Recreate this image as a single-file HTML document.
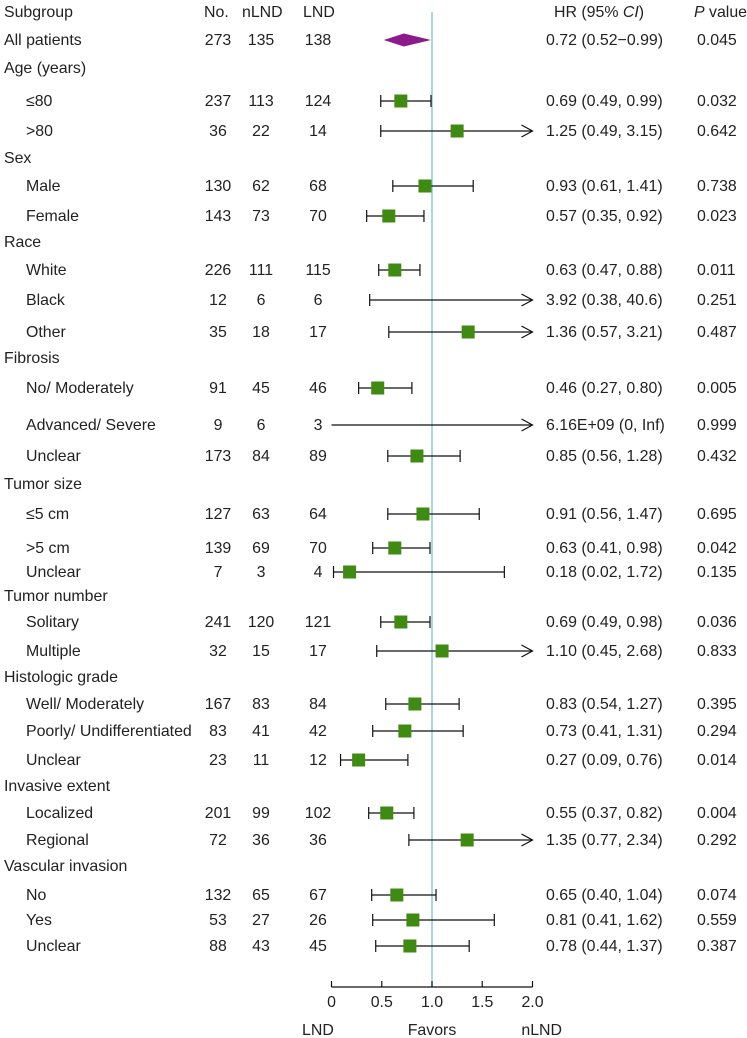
<!DOCTYPE html>
<html><head><meta charset="utf-8"><style>
html,body{margin:0;padding:0;background:#fff;}
svg{display:block;font-family:"Liberation Sans",Arial,sans-serif;font-size:15.9px;fill:#222;}
</style></head><body>
<svg id="chart" width="747" height="1038" viewBox="0 0 747 1038" xmlns="http://www.w3.org/2000/svg">
<g id="hdr">
<text x="4" y="17">Subgroup</text>
<text x="204" y="17">No.</text>
<text x="242" y="17">nLND</text>
<text x="303" y="17">LND</text>
<text x="554" y="17">HR (95% <tspan font-style="italic">CI</tspan>)</text>
<text x="694" y="17"><tspan font-style="italic">P</tspan> value</text>
</g>
<g id="rows"></g>
<g id="axis"></g>
</svg>
<script>
const labels=["All patients","Age (years)","≤80",">80","Sex","Male","Female","Race","White","Black","Other","Fibrosis","No/ Moderately","Advanced/ Severe","Unclear","Tumor size","≤5 cm",">5 cm","Unclear","Tumor number","Solitary","Multiple","Histologic grade","Well/ Moderately","Poorly/ Undifferentiated","Unclear","Invasive extent","Localized","Regional","Vascular invasion","No","Yes","Unclear"];
const rowY=[40,68,101,131,158,186,216,242,270,300,332,358,388,425,456,484,514,548,572,596,622,651,677,704,731,760,786,813,840,866,895,920,946];
const nTotal=[273,null,237,36,null,130,143,null,226,12,35,null,91,9,173,null,127,139,7,null,241,32,null,167,83,23,null,201,72,null,132,53,88];
const nLND=[135,null,113,22,null,62,73,null,111,6,18,null,45,6,84,null,63,69,3,null,120,15,null,83,41,11,null,99,36,null,65,27,43];
const nLND2=[138,null,124,14,null,68,70,null,115,6,17,null,46,3,89,null,64,70,4,null,121,17,null,84,42,12,null,102,36,null,67,26,45];
const hr=[0.72,null,0.69,1.25,null,0.93,0.57,null,0.63,3.92,1.36,null,0.46,6.16e9,0.85,null,0.91,0.63,0.18,null,0.69,1.10,null,0.83,0.73,0.27,null,0.55,1.35,null,0.65,0.81,0.78];
const lo=[0.52,null,0.49,0.49,null,0.61,0.35,null,0.47,0.38,0.57,null,0.27,0,0.56,null,0.56,0.41,0.02,null,0.49,0.45,null,0.54,0.41,0.09,null,0.37,0.77,null,0.40,0.41,0.44];
const hi=[0.99,null,0.99,3.15,null,1.41,0.92,null,0.88,40.6,3.21,null,0.80,Infinity,1.28,null,1.47,0.98,1.72,null,0.98,2.68,null,1.27,1.31,0.76,null,0.82,2.34,null,1.04,1.62,1.37];
const hrText=["0.72 (0.52−0.99)",null,"0.69 (0.49, 0.99)","1.25 (0.49, 3.15)",null,"0.93 (0.61, 1.41)","0.57 (0.35, 0.92)",null,"0.63 (0.47, 0.88)","3.92 (0.38, 40.6)","1.36 (0.57, 3.21)",null,"0.46 (0.27, 0.80)","6.16E+09 (0, Inf)","0.85 (0.56, 1.28)",null,"0.91 (0.56, 1.47)","0.63 (0.41, 0.98)","0.18 (0.02, 1.72)",null,"0.69 (0.49, 0.98)","1.10 (0.45, 2.68)",null,"0.83 (0.54, 1.27)","0.73 (0.41, 1.31)","0.27 (0.09, 0.76)",null,"0.55 (0.37, 0.82)","1.35 (0.77, 2.34)",null,"0.65 (0.40, 1.04)","0.81 (0.41, 1.62)","0.78 (0.44, 1.37)"];
const pText=["0.045",null,"0.032","0.642",null,"0.738","0.023",null,"0.011","0.251","0.487",null,"0.005","0.999","0.432",null,"0.695","0.042","0.135",null,"0.036","0.833",null,"0.395","0.294","0.014",null,"0.004","0.292",null,"0.074","0.559","0.387"];
const ticks=[0,0.5,1.0,1.5,2.0];
const tickLabels=["0","0.5","1.0","1.5","2.0"];

const NS="http://www.w3.org/2000/svg";
const x=v=>331.5+v*100.5;
const xMax=2.0;
function mk(tag,attrs,parent){const e=document.createElementNS(NS,tag);for(const k in attrs)e.setAttribute(k,attrs[k]);parent.appendChild(e);return e;}
const rows=document.getElementById('rows');
const axis=document.getElementById('axis');
const ref=mk('line',{x1:x(1),x2:x(1),y1:12,y2:987,stroke:'#7fbfd0','stroke-width':1.3},rows);


labels.forEach((lab,i)=>{
  const y=rowY[i];const g=mk('g',{},rows);
  
  
  const isHead=nTotal[i]===null;
  const indent=(isHead||i===0)?4:26;
  const t=mk('text',{x:indent,y:y+5},g);t.textContent=lab;
  
  
  if(isHead)return;
  [[nTotal,218],[nLND,261],[nLND2,318]].forEach(([arr,cx])=>{
    const n=mk('text',{x:cx,y:y+5,'text-anchor':'middle'},g);n.textContent=arr[i];
    
    
  });
  const h=mk('text',{x:546,y:y+5},g);h.textContent=hrText[i];
  
  
  const p=mk('text',{x:697,y:y+5},g);p.textContent=pText[i];
  
  
  if(i===0){
    const d=mk('polygon',{points:`${x(lo[i])},${y} ${x(hr[i])},${y-6.5} ${x(hi[i])},${y} ${x(hr[i])},${y+6.5}`,fill:'#8b1a8b'},g);
    
    
    return;
  }
  const arrow=hi[i]>xMax;
  const x2=arrow?x(xMax):x(hi[i]);
  const ln=mk('line',{x1:x(lo[i]),x2:x2,y1:y,y2:y,stroke:'#111','stroke-width':1.2},g);
  
  
  if(lo[i]>0){const c=mk('line',{x1:x(lo[i]),x2:x(lo[i]),y1:y-6,y2:y+6,stroke:'#111','stroke-width':1.2},g);
    
    }
  if(arrow){const a=mk('polyline',{points:`${x2-11},${y-6} ${x2},${y} ${x2-11},${y+6}`,fill:'none',stroke:'#111','stroke-width':1.2},g);
    
    }
  else{const c=mk('line',{x1:x2,x2:x2,y1:y-6,y2:y+6,stroke:'#111','stroke-width':1.2},g);
    
    }
  if(hr[i]<=xMax){const s=mk('rect',{x:x(hr[i])-6.5,y:y-6.5,width:13,height:13,fill:'#3f8a10'},g);
    
    }
});
mk('line',{x1:x(0),x2:x(xMax),y1:987,y2:987,stroke:'#111','stroke-width':1.2},axis);
ticks.forEach((v,i)=>{
  const tk=mk('line',{x1:x(v),x2:x(v),y1:981,y2:987,stroke:'#111','stroke-width':1.2},axis);
  
  
  const tl=mk('text',{x:x(v),y:1007,'text-anchor':'middle'},axis);tl.textContent=tickLabels[i];
  
  
});
[["LND",302,'start','favors-lnd-label'],["Favors",432,'middle','favors-label'],["nLND",562,'end','favors-nlnd-label']].forEach(([s,xx,an,nm])=>{
  const t=mk('text',{x:xx,y:1035,'text-anchor':an},axis);t.textContent=s;
  
  
});
</script>
</body></html>
